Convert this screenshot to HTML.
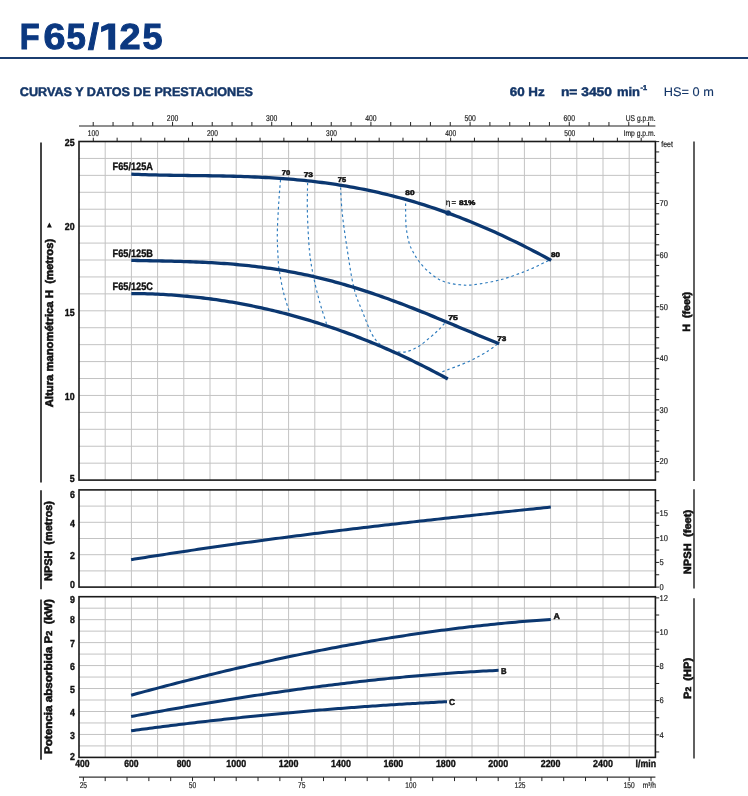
<!DOCTYPE html>
<html><head><meta charset="utf-8"><title>F65/125</title>
<style>
html,body{margin:0;padding:0;background:#fff;width:748px;height:796px;overflow:hidden;}
svg{position:absolute;left:0;top:0;display:block;will-change:transform;}
</style></head><body>
<svg width="748" height="796" viewBox="0 0 748 796"><style>text{font-family:"Liberation Sans",sans-serif;text-rendering:geometricPrecision;}
.ti{font-size:36.3px;font-weight:bold;fill:#0b3880;stroke:#0b3880;stroke-width:1px;}
.hd{font-weight:bold;fill:#143668;stroke:#143668;stroke-width:0.45px;}
.sm{font-size:8.4px;fill:#222;stroke:#222;stroke-width:0.2px;}
.sm2{font-size:8px;fill:#222;stroke:#222;stroke-width:0.35px;}
.ax{font-size:10.2px;font-weight:bold;fill:#111;stroke:#111;stroke-width:0.4px;}
.lb{font-size:10.8px;font-weight:bold;fill:#111;stroke:#111;stroke-width:0.35px;}
.lb2{font-size:8.5px;font-weight:bold;fill:#111;stroke:#111;stroke-width:0.45px;}
.ef{font-size:6.8px;font-weight:bold;fill:#111;stroke:#111;stroke-width:0.5px;}
.rt{font-size:11px;font-weight:bold;fill:#111;stroke:#111;stroke-width:0.6px;}
.rt2{font-size:10.5px;font-weight:bold;fill:#111;stroke:#111;stroke-width:0.6px;}
.cv{fill:none;stroke:#0b3770;stroke-linejoin:round;}
.ds{fill:none;stroke:#2d7bbd;stroke-width:1.15;stroke-dasharray:2.6,2.8;}
</style>
<text transform="translate(19.87,49.3) scale(0.896,1)" class="ti">F</text>
<text transform="translate(43.40,49.3) scale(1.089,1)" class="ti">6</text>
<text transform="translate(66.41,49.3) scale(0.960,1)" class="ti">5</text>
<text transform="translate(87.96,49.3) scale(1.079,1)" class="ti">/</text>
<text transform="translate(119.51,49.3) scale(1.045,1)" class="ti">2</text>
<text transform="translate(142.49,49.3) scale(0.992,1)" class="ti">5</text>
<path d="M108.3,23.6H115.2V49.7H108.3V29.2L101.1,32.3V26.8Z" fill="#0b3880"/>
<rect x="0" y="57" width="748" height="2" fill="#1b3d70"/>
<text x="19.8" y="95.6" class="hd" font-size="12.4" textLength="233.2" lengthAdjust="spacingAndGlyphs">CURVAS Y DATOS DE PRESTACIONES</text>
<text x="509.7" y="95.6" class="hd" font-size="12.4" textLength="35" lengthAdjust="spacingAndGlyphs">60 Hz</text>
<text x="560.9" y="95.6" class="hd" font-size="12.4" textLength="51.1" lengthAdjust="spacingAndGlyphs">n= 3450</text>
<text x="616.9" y="95.6" class="hd" font-size="12.4" textLength="23.1" lengthAdjust="spacingAndGlyphs">min</text>
<text x="640.5" y="89.5" class="hd" font-size="7" textLength="6.5" lengthAdjust="spacingAndGlyphs">-1</text>
<text x="663.8" y="95.6" class="hd" font-size="12.4" style="font-weight:normal;stroke-width:0.1px" textLength="50" lengthAdjust="spacingAndGlyphs">HS= 0 m</text>
<path d="M105.20,141.50V480.10M131.40,141.50V480.10M157.60,141.50V480.10M183.80,141.50V480.10M210.00,141.50V480.10M236.20,141.50V480.10M262.40,141.50V480.10M288.60,141.50V480.10M314.80,141.50V480.10M341.00,141.50V480.10M367.20,141.50V480.10M393.40,141.50V480.10M419.60,141.50V480.10M445.80,141.50V480.10M472.00,141.50V480.10M498.20,141.50V480.10M524.40,141.50V480.10M550.60,141.50V480.10M576.80,141.50V480.10M603.00,141.50V480.10M629.20,141.50V480.10M79.00,463.17H655.40M79.00,446.24H655.40M79.00,429.31H655.40M79.00,412.38H655.40M79.00,395.45H655.40M79.00,378.52H655.40M79.00,361.59H655.40M79.00,344.66H655.40M79.00,327.73H655.40M79.00,310.80H655.40M79.00,293.87H655.40M79.00,276.94H655.40M79.00,260.01H655.40M79.00,243.08H655.40M79.00,226.15H655.40M79.00,209.22H655.40M79.00,192.29H655.40M79.00,175.36H655.40M79.00,158.43H655.40" stroke="#c3c3c3" stroke-width="1" fill="none"/>
<path d="M105.20,489.90V587.10M131.40,489.90V587.10M157.60,489.90V587.10M183.80,489.90V587.10M210.00,489.90V587.10M236.20,489.90V587.10M262.40,489.90V587.10M288.60,489.90V587.10M314.80,489.90V587.10M341.00,489.90V587.10M367.20,489.90V587.10M393.40,489.90V587.10M419.60,489.90V587.10M445.80,489.90V587.10M472.00,489.90V587.10M498.20,489.90V587.10M524.40,489.90V587.10M550.60,489.90V587.10M576.80,489.90V587.10M603.00,489.90V587.10M629.20,489.90V587.10M79.00,570.90H655.40M79.00,554.70H655.40M79.00,538.50H655.40M79.00,522.30H655.40M79.00,506.10H655.40" stroke="#c3c3c3" stroke-width="1" fill="none"/>
<path d="M105.20,596.70V757.40M131.40,596.70V757.40M157.60,596.70V757.40M183.80,596.70V757.40M210.00,596.70V757.40M236.20,596.70V757.40M262.40,596.70V757.40M288.60,596.70V757.40M314.80,596.70V757.40M341.00,596.70V757.40M367.20,596.70V757.40M393.40,596.70V757.40M419.60,596.70V757.40M445.80,596.70V757.40M472.00,596.70V757.40M498.20,596.70V757.40M524.40,596.70V757.40M550.60,596.70V757.40M576.80,596.70V757.40M603.00,596.70V757.40M629.20,596.70V757.40M79.00,745.92H655.40M79.00,734.44H655.40M79.00,722.96H655.40M79.00,711.49H655.40M79.00,700.01H655.40M79.00,688.53H655.40M79.00,677.05H655.40M79.00,665.57H655.40M79.00,654.09H655.40M79.00,642.61H655.40M79.00,631.14H655.40M79.00,619.66H655.40M79.00,608.18H655.40" stroke="#c3c3c3" stroke-width="1" fill="none"/>
<path d="M41,142.4V482.5" stroke="#454545" stroke-width="2"/>
<path d="M41,490.2V589.3" stroke="#454545" stroke-width="2"/>
<path d="M41,599.5V759.7" stroke="#454545" stroke-width="2"/>
<path d="M694,141.5V481.0" stroke="#454545" stroke-width="1.7"/>
<path d="M694,489.2V588.4" stroke="#454545" stroke-width="1.7"/>
<path d="M694,598.3V758.4" stroke="#454545" stroke-width="1.7"/>
<path d="M79.00,125.90H655.40" stroke="#6a6a6a" stroke-width="1.5"/>
<text x="172.56" y="120.80" class="sm" text-anchor="middle" textLength="11.4" lengthAdjust="spacingAndGlyphs">200</text>
<text x="271.73" y="120.80" class="sm" text-anchor="middle" textLength="11.4" lengthAdjust="spacingAndGlyphs">300</text>
<text x="370.91" y="120.80" class="sm" text-anchor="middle" textLength="11.4" lengthAdjust="spacingAndGlyphs">400</text>
<text x="470.09" y="120.80" class="sm" text-anchor="middle" textLength="11.4" lengthAdjust="spacingAndGlyphs">500</text>
<text x="569.27" y="120.80" class="sm" text-anchor="middle" textLength="11.4" lengthAdjust="spacingAndGlyphs">600</text>
<text x="93.31" y="136.40" class="sm" text-anchor="middle" textLength="11.0" lengthAdjust="spacingAndGlyphs">100</text>
<text x="212.42" y="136.40" class="sm" text-anchor="middle" textLength="11.0" lengthAdjust="spacingAndGlyphs">200</text>
<text x="331.52" y="136.40" class="sm" text-anchor="middle" textLength="11.0" lengthAdjust="spacingAndGlyphs">300</text>
<text x="450.63" y="136.40" class="sm" text-anchor="middle" textLength="11.0" lengthAdjust="spacingAndGlyphs">400</text>
<text x="569.74" y="136.40" class="sm" text-anchor="middle" textLength="11.0" lengthAdjust="spacingAndGlyphs">500</text>
<path d="M93.21,122V125.90M113.05,122V125.90M132.88,122V125.90M152.72,122V125.90M172.56,122V125.90M192.39,122V125.90M212.23,122V125.90M232.06,122V125.90M251.90,122V125.90M271.73,122V125.90M291.57,122V125.90M311.40,122V125.90M331.24,122V125.90M351.08,122V125.90M370.91,122V125.90M390.75,122V125.90M410.58,122V125.90M430.42,122V125.90M450.25,122V125.90M470.09,122V125.90M489.92,122V125.90M509.76,122V125.90M529.60,122V125.90M549.43,122V125.90M569.27,122V125.90M589.10,122V125.90M608.94,122V125.90M628.77,122V125.90M648.61,122V125.90M93.31,137.7V141.50M117.13,137.7V141.50M140.95,137.7V141.50M164.77,137.7V141.50M188.59,137.7V141.50M212.42,137.7V141.50M236.24,137.7V141.50M260.06,137.7V141.50M283.88,137.7V141.50M307.70,137.7V141.50M331.52,137.7V141.50M355.34,137.7V141.50M379.17,137.7V141.50M402.99,137.7V141.50M426.81,137.7V141.50M450.63,137.7V141.50M474.45,137.7V141.50M498.27,137.7V141.50M522.09,137.7V141.50M545.92,137.7V141.50M569.74,137.7V141.50M593.56,137.7V141.50M617.38,137.7V141.50M641.20,137.7V141.50" stroke="#222" stroke-width="1"/>
<text x="655.50" y="120.80" class="sm" text-anchor="end" textLength="29.7" lengthAdjust="spacingAndGlyphs">US g.p.m.</text>
<text x="655.50" y="136.40" class="sm" text-anchor="end" textLength="31.9" lengthAdjust="spacingAndGlyphs">Imp g.p.m.</text>
<path d="M79.00,777.10H655.40" stroke="#333" stroke-width="1.4"/>
<text x="83.37" y="788.30" class="sm" text-anchor="middle" textLength="7.4" lengthAdjust="spacingAndGlyphs">25</text>
<text x="192.53" y="788.30" class="sm" text-anchor="middle" textLength="7.4" lengthAdjust="spacingAndGlyphs">50</text>
<text x="301.70" y="788.30" class="sm" text-anchor="middle" textLength="7.4" lengthAdjust="spacingAndGlyphs">75</text>
<text x="410.87" y="788.30" class="sm" text-anchor="middle" textLength="11.0" lengthAdjust="spacingAndGlyphs">100</text>
<text x="520.03" y="788.30" class="sm" text-anchor="middle" textLength="11.0" lengthAdjust="spacingAndGlyphs">125</text>
<text x="629.20" y="788.30" class="sm" text-anchor="middle" textLength="11.0" lengthAdjust="spacingAndGlyphs">150</text>
<path d="M83.37,777.10V781.10M105.20,777.10V781.10M127.03,777.10V781.10M148.87,777.10V781.10M170.70,777.10V781.10M192.53,777.10V781.10M214.37,777.10V781.10M236.20,777.10V781.10M258.03,777.10V781.10M279.87,777.10V781.10M301.70,777.10V781.10M323.53,777.10V781.10M345.37,777.10V781.10M367.20,777.10V781.10M389.03,777.10V781.10M410.87,777.10V781.10M432.70,777.10V781.10M454.53,777.10V781.10M476.37,777.10V781.10M498.20,777.10V781.10M520.03,777.10V781.10M541.87,777.10V781.10M563.70,777.10V781.10M585.53,777.10V781.10M607.37,777.10V781.10M629.20,777.10V781.10M651.03,777.10V781.10" stroke="#222" stroke-width="1"/>
<text x="656.00" y="788.30" class="sm" text-anchor="end" textLength="13.2" lengthAdjust="spacingAndGlyphs">m³/h</text>
<text x="82.30" y="767.20" class="ax" text-anchor="middle" textLength="14.3" lengthAdjust="spacingAndGlyphs">400</text>
<text x="131.40" y="767.20" class="ax" text-anchor="middle" textLength="14.3" lengthAdjust="spacingAndGlyphs">600</text>
<text x="183.80" y="767.20" class="ax" text-anchor="middle" textLength="14.3" lengthAdjust="spacingAndGlyphs">800</text>
<text x="236.20" y="767.20" class="ax" text-anchor="middle" textLength="19.8" lengthAdjust="spacingAndGlyphs">1000</text>
<text x="288.60" y="767.20" class="ax" text-anchor="middle" textLength="19.8" lengthAdjust="spacingAndGlyphs">1200</text>
<text x="341.00" y="767.20" class="ax" text-anchor="middle" textLength="19.8" lengthAdjust="spacingAndGlyphs">1400</text>
<text x="393.40" y="767.20" class="ax" text-anchor="middle" textLength="19.8" lengthAdjust="spacingAndGlyphs">1600</text>
<text x="445.80" y="767.20" class="ax" text-anchor="middle" textLength="19.8" lengthAdjust="spacingAndGlyphs">1800</text>
<text x="498.20" y="767.20" class="ax" text-anchor="middle" textLength="19.8" lengthAdjust="spacingAndGlyphs">2000</text>
<text x="550.60" y="767.20" class="ax" text-anchor="middle" textLength="19.8" lengthAdjust="spacingAndGlyphs">2200</text>
<text x="603.00" y="767.20" class="ax" text-anchor="middle" textLength="19.8" lengthAdjust="spacingAndGlyphs">2400</text>
<text x="656.00" y="767.20" class="ax" text-anchor="end" textLength="20.4" lengthAdjust="spacingAndGlyphs">l/min</text>
<text x="74.60" y="146.00" class="ax" text-anchor="end" textLength="9.8" lengthAdjust="spacingAndGlyphs">25</text>
<text x="74.60" y="230.30" class="ax" text-anchor="end" textLength="9.8" lengthAdjust="spacingAndGlyphs">20</text>
<text x="74.60" y="316.00" class="ax" text-anchor="end" textLength="9.8" lengthAdjust="spacingAndGlyphs">15</text>
<text x="74.60" y="400.20" class="ax" text-anchor="end" textLength="9.8" lengthAdjust="spacingAndGlyphs">10</text>
<text x="74.60" y="482.10" class="ax" text-anchor="end" textLength="4.9" lengthAdjust="spacingAndGlyphs">5</text>
<text x="74.80" y="498.00" class="ax" text-anchor="end" textLength="4.9" lengthAdjust="spacingAndGlyphs">6</text>
<text x="74.80" y="527.00" class="ax" text-anchor="end" textLength="4.9" lengthAdjust="spacingAndGlyphs">4</text>
<text x="74.80" y="559.40" class="ax" text-anchor="end" textLength="4.9" lengthAdjust="spacingAndGlyphs">2</text>
<text x="74.80" y="587.80" class="ax" text-anchor="end" textLength="4.9" lengthAdjust="spacingAndGlyphs">0</text>
<text x="74.80" y="603.00" class="ax" text-anchor="end" textLength="4.9" lengthAdjust="spacingAndGlyphs">9</text>
<text x="74.80" y="623.40" class="ax" text-anchor="end" textLength="4.9" lengthAdjust="spacingAndGlyphs">8</text>
<text x="74.80" y="647.20" class="ax" text-anchor="end" textLength="4.9" lengthAdjust="spacingAndGlyphs">7</text>
<text x="74.80" y="669.80" class="ax" text-anchor="end" textLength="4.9" lengthAdjust="spacingAndGlyphs">6</text>
<text x="74.80" y="692.90" class="ax" text-anchor="end" textLength="4.9" lengthAdjust="spacingAndGlyphs">5</text>
<text x="74.80" y="716.20" class="ax" text-anchor="end" textLength="4.9" lengthAdjust="spacingAndGlyphs">4</text>
<text x="74.80" y="738.80" class="ax" text-anchor="end" textLength="4.9" lengthAdjust="spacingAndGlyphs">3</text>
<text x="74.80" y="760.30" class="ax" text-anchor="end" textLength="4.9" lengthAdjust="spacingAndGlyphs">2</text>
<text x="659.60" y="464.34" class="sm" textLength="8.4" lengthAdjust="spacingAndGlyphs">20</text>
<text x="659.60" y="412.74" class="sm" textLength="8.4" lengthAdjust="spacingAndGlyphs">30</text>
<text x="659.60" y="361.14" class="sm" textLength="8.4" lengthAdjust="spacingAndGlyphs">40</text>
<text x="659.60" y="309.54" class="sm" textLength="8.4" lengthAdjust="spacingAndGlyphs">50</text>
<text x="659.60" y="257.93" class="sm" textLength="8.4" lengthAdjust="spacingAndGlyphs">60</text>
<text x="659.60" y="206.33" class="sm" textLength="8.4" lengthAdjust="spacingAndGlyphs">70</text>
<text x="661.30" y="147.00" class="sm" textLength="11.6" lengthAdjust="spacingAndGlyphs">feet</text>
<text x="659.60" y="589.90" class="sm" textLength="4.2" lengthAdjust="spacingAndGlyphs">0</text>
<text x="659.60" y="565.21" class="sm" textLength="4.2" lengthAdjust="spacingAndGlyphs">5</text>
<text x="659.60" y="540.52" class="sm" textLength="8.4" lengthAdjust="spacingAndGlyphs">10</text>
<text x="659.60" y="515.83" class="sm" textLength="8.4" lengthAdjust="spacingAndGlyphs">15</text>
<text x="659.60" y="737.64" class="sm" textLength="4.2" lengthAdjust="spacingAndGlyphs">4</text>
<text x="659.60" y="703.40" class="sm" textLength="4.2" lengthAdjust="spacingAndGlyphs">6</text>
<text x="659.60" y="669.16" class="sm" textLength="4.2" lengthAdjust="spacingAndGlyphs">8</text>
<text x="659.60" y="634.92" class="sm" textLength="8.4" lengthAdjust="spacingAndGlyphs">10</text>
<text x="659.60" y="600.68" class="sm" textLength="8.4" lengthAdjust="spacingAndGlyphs">12</text>
<path d="M655.40,471.87H659.20M655.40,461.54H659.20M655.40,451.22H659.20M655.40,440.90H659.20M655.40,430.58H659.20M655.40,420.26H659.20M655.40,409.94H659.20M655.40,399.62H659.20M655.40,389.30H659.20M655.40,378.98H659.20M655.40,368.66H659.20M655.40,358.34H659.20M655.40,348.02H659.20M655.40,337.70H659.20M655.40,327.38H659.20M655.40,317.06H659.20M655.40,306.74H659.20M655.40,296.42H659.20M655.40,286.10H659.20M655.40,275.78H659.20M655.40,265.45H659.20M655.40,255.13H659.20M655.40,244.81H659.20M655.40,234.49H659.20M655.40,224.17H659.20M655.40,213.85H659.20M655.40,203.53H659.20M655.40,193.21H659.20M655.40,182.89H659.20M655.40,172.57H659.20M655.40,162.25H659.20M655.40,151.93H659.20M655.40,141.61H659.20M655.40,587.10H659.20M655.40,574.76H659.20M655.40,562.41H659.20M655.40,550.07H659.20M655.40,537.72H659.20M655.40,525.38H659.20M655.40,513.03H659.20M655.40,500.69H659.20M655.40,751.96H659.20M655.40,734.84H659.20M655.40,717.72H659.20M655.40,700.60H659.20M655.40,683.48H659.20M655.40,666.36H659.20M655.40,649.24H659.20M655.40,632.12H659.20M655.40,615.00H659.20M655.40,597.88H659.20" stroke="#222" stroke-width="1"/>
<text transform="translate(53.10,323.00) rotate(-90)" class="rt" text-anchor="middle" textLength="168.6" lengthAdjust="spacingAndGlyphs">Altura manométrica H&#160; (metros)</text>
<path d="M46.9,227.6 L51.9,227.6 L49.4,222.6 Z" fill="#111"/>
<text transform="translate(52.20,541.00) rotate(-90)" class="rt" text-anchor="middle" textLength="80.0" lengthAdjust="spacingAndGlyphs">NPSH&#160; (metros)</text>
<text transform="translate(52.20,676.50) rotate(-90)" class="rt" text-anchor="middle" textLength="155.0" lengthAdjust="spacingAndGlyphs">Potencia absorbida P<tspan font-size="8.5">2</tspan>&#160; (kW)</text>
<text transform="translate(690.20,311.80) rotate(-90)" class="rt2" text-anchor="middle" textLength="40.0" lengthAdjust="spacingAndGlyphs">H&#160; (feet)</text>
<text transform="translate(690.50,542.00) rotate(-90)" class="rt2" text-anchor="middle" textLength="64.4" lengthAdjust="spacingAndGlyphs">NPSH&#160; (feet)</text>
<text transform="translate(690.50,678.40) rotate(-90)" class="rt2" text-anchor="middle" textLength="41.0" lengthAdjust="spacingAndGlyphs">P<tspan font-size="8">2</tspan>&#160; (HP)</text>
<path d="M280.50,180.00 C280.22,183.67 279.33,193.00 278.80,202.00 C278.27,211.00 277.40,224.38 277.30,234.00 C277.20,243.62 277.87,253.63 278.20,259.70 C278.53,265.77 278.45,265.07 279.30,270.40 C280.15,275.73 281.60,284.68 283.30,291.70 C285.00,298.72 288.47,309.03 289.50,312.50" class="ds"/>
<path d="M307.60,183.00 C307.57,187.95 307.08,201.35 307.40,212.70 C307.72,224.05 308.47,240.38 309.50,251.10 C310.53,261.82 311.88,268.45 313.60,277.00 C315.32,285.55 317.65,294.62 319.80,302.40 C321.95,310.18 325.38,320.15 326.50,323.70" class="ds"/>
<path d="M340.50,187.50 C340.78,191.70 341.20,203.17 342.20,212.70 C343.20,222.23 344.57,232.23 346.50,244.70 C348.43,257.17 351.05,276.12 353.80,287.50 C356.55,298.88 359.93,305.15 363.00,313.00 C366.07,320.85 369.20,329.27 372.20,334.60 C375.20,339.93 377.70,342.35 381.00,345.00 C384.30,347.65 388.50,349.30 392.00,350.50 C395.50,351.70 399.00,352.18 402.00,352.20 C405.00,352.22 407.13,351.63 410.00,350.60 C412.87,349.57 415.87,348.18 419.20,346.00 C422.53,343.82 426.78,340.17 430.00,337.50 C433.22,334.83 436.05,332.38 438.50,330.00 C440.95,327.62 443.67,324.33 444.70,323.20" class="ds"/>
<path d="M405.60,203.50 C405.62,205.55 405.58,211.68 405.70,215.80 C405.82,219.92 405.73,223.68 406.30,228.20 C406.87,232.72 407.97,238.93 409.10,242.90 C410.23,246.87 411.50,248.98 413.10,252.00 C414.70,255.02 416.45,258.00 418.70,261.00 C420.95,264.00 423.58,267.17 426.60,270.00 C429.62,272.83 433.40,275.90 436.80,278.00 C440.20,280.10 443.13,281.47 447.00,282.60 C450.87,283.73 455.67,284.43 460.00,284.80 C464.33,285.17 466.27,285.63 473.00,284.80 C479.73,283.97 491.17,282.27 500.40,279.80 C509.63,277.33 520.08,273.37 528.40,270.00 C536.72,266.63 546.65,261.33 550.30,259.60" class="ds"/>
<path d="M442.30,371.80 C446.90,370.00 462.08,364.60 469.90,361.00 C477.72,357.40 484.47,353.13 489.20,350.20 C493.93,347.27 496.78,344.53 498.30,343.40" class="ds"/>
<path d="M131.30,174.13 L134.83,174.29 L138.36,174.43 L141.89,174.56 L145.41,174.67 L148.94,174.78 L152.47,174.87 L156.00,174.96 L159.53,175.04 L163.06,175.11 L166.59,175.18 L170.11,175.24 L173.64,175.30 L177.17,175.35 L180.70,175.40 L184.23,175.45 L187.76,175.49 L191.29,175.53 L194.81,175.58 L198.34,175.62 L201.87,175.67 L205.40,175.72 L208.93,175.77 L212.46,175.83 L215.99,175.89 L219.51,175.95 L223.04,176.02 L226.57,176.10 L230.10,176.18 L233.63,176.27 L237.16,176.37 L240.69,176.47 L244.21,176.59 L247.74,176.71 L251.27,176.85 L254.80,177.00 L258.33,177.15 L261.86,177.32 L265.39,177.51 L268.91,177.70 L272.44,177.91 L275.97,178.13 L279.50,178.37 L283.03,178.62 L286.56,178.89 L290.09,179.17 L293.61,179.47 L297.14,179.79 L300.67,180.12 L304.20,180.47 L307.73,180.84 L311.26,181.23 L314.79,181.64 L318.31,182.06 L321.84,182.50 L325.37,182.97 L328.90,183.45 L332.43,183.96 L335.96,184.48 L339.49,185.03 L343.01,185.59 L346.54,186.18 L350.07,186.79 L353.60,187.42 L357.13,188.07 L360.66,188.75 L364.19,189.45 L367.71,190.17 L371.24,190.91 L374.77,191.68 L378.30,192.47 L381.83,193.29 L385.36,194.13 L388.89,194.99 L392.41,195.87 L395.94,196.78 L399.47,197.72 L403.00,198.67 L406.53,199.66 L410.06,200.66 L413.59,201.69 L417.11,202.75 L420.64,203.83 L424.17,204.93 L427.70,206.06 L431.23,207.22 L434.76,208.40 L438.29,209.60 L441.81,210.82 L445.34,212.08 L448.87,213.35 L452.40,214.65 L455.93,215.98 L459.46,217.33 L462.99,218.70 L466.51,220.10 L470.04,221.52 L473.57,222.96 L477.10,224.43 L480.63,225.92 L484.16,227.44 L487.69,228.97 L491.21,230.53 L494.74,232.12 L498.27,233.72 L501.80,235.35 L505.33,237.00 L508.86,238.68 L512.39,240.37 L515.91,242.08 L519.44,243.82 L522.97,245.58 L526.50,247.36 L530.03,249.15 L533.56,250.97 L537.09,252.81 L540.61,254.66 L544.14,256.54 L547.67,258.43 L551.20,260.34" class="cv" stroke-width="3.3"/>
<path d="M131.30,260.31 L134.39,260.40 L137.48,260.48 L140.57,260.55 L143.67,260.63 L146.76,260.69 L149.85,260.76 L152.94,260.82 L156.03,260.89 L159.12,260.95 L162.22,261.02 L165.31,261.08 L168.40,261.15 L171.49,261.22 L174.58,261.30 L177.67,261.38 L180.77,261.46 L183.86,261.55 L186.95,261.65 L190.04,261.75 L193.13,261.86 L196.22,261.98 L199.32,262.11 L202.41,262.24 L205.50,262.39 L208.59,262.55 L211.68,262.71 L214.77,262.89 L217.86,263.08 L220.96,263.28 L224.05,263.50 L227.14,263.72 L230.23,263.96 L233.32,264.22 L236.41,264.49 L239.51,264.77 L242.60,265.07 L245.69,265.38 L248.78,265.71 L251.87,266.06 L254.96,266.42 L258.06,266.80 L261.15,267.19 L264.24,267.60 L267.33,268.03 L270.42,268.47 L273.51,268.94 L276.61,269.42 L279.70,269.92 L282.79,270.43 L285.88,270.97 L288.97,271.52 L292.06,272.09 L295.15,272.68 L298.25,273.29 L301.34,273.92 L304.43,274.57 L307.52,275.23 L310.61,275.92 L313.70,276.62 L316.80,277.34 L319.89,278.08 L322.98,278.84 L326.07,279.61 L329.16,280.41 L332.25,281.22 L335.35,282.06 L338.44,282.91 L341.53,283.78 L344.62,284.66 L347.71,285.57 L350.80,286.49 L353.89,287.43 L356.99,288.38 L360.08,289.35 L363.17,290.34 L366.26,291.35 L369.35,292.37 L372.44,293.41 L375.54,294.46 L378.63,295.53 L381.72,296.61 L384.81,297.71 L387.90,298.82 L390.99,299.94 L394.09,301.08 L397.18,302.23 L400.27,303.40 L403.36,304.57 L406.45,305.76 L409.54,306.96 L412.64,308.16 L415.73,309.38 L418.82,310.61 L421.91,311.85 L425.00,313.09 L428.09,314.34 L431.18,315.61 L434.28,316.87 L437.37,318.15 L440.46,319.42 L443.55,320.71 L446.64,321.99 L449.73,323.28 L452.83,324.58 L455.92,325.87 L459.01,327.17 L462.10,328.47 L465.19,329.76 L468.28,331.06 L471.38,332.35 L474.47,333.64 L477.56,334.93 L480.65,336.22 L483.74,337.49 L486.83,338.77 L489.93,340.03 L493.02,341.29 L496.11,342.54 L499.20,343.78" class="cv" stroke-width="3.3"/>
<path d="M131.30,293.54 L133.96,293.55 L136.62,293.58 L139.28,293.61 L141.94,293.66 L144.60,293.72 L147.26,293.79 L149.92,293.88 L152.58,293.97 L155.24,294.08 L157.90,294.20 L160.56,294.33 L163.22,294.47 L165.88,294.62 L168.54,294.79 L171.19,294.96 L173.85,295.15 L176.51,295.35 L179.17,295.56 L181.83,295.78 L184.49,296.02 L187.15,296.26 L189.81,296.52 L192.47,296.79 L195.13,297.07 L197.79,297.36 L200.45,297.67 L203.11,297.99 L205.77,298.31 L208.43,298.65 L211.09,299.00 L213.75,299.37 L216.41,299.74 L219.07,300.13 L221.73,300.53 L224.39,300.94 L227.05,301.36 L229.71,301.80 L232.37,302.24 L235.03,302.70 L237.69,303.17 L240.35,303.66 L243.01,304.15 L245.67,304.66 L248.33,305.17 L250.98,305.70 L253.64,306.25 L256.30,306.80 L258.96,307.37 L261.62,307.94 L264.28,308.53 L266.94,309.14 L269.60,309.75 L272.26,310.38 L274.92,311.01 L277.58,311.67 L280.24,312.33 L282.90,313.00 L285.56,313.69 L288.22,314.39 L290.88,315.10 L293.54,315.82 L296.20,316.56 L298.86,317.30 L301.52,318.06 L304.18,318.84 L306.84,319.62 L309.50,320.42 L312.16,321.22 L314.82,322.05 L317.48,322.88 L320.14,323.72 L322.80,324.58 L325.46,325.45 L328.12,326.33 L330.77,327.23 L333.43,328.13 L336.09,329.05 L338.75,329.98 L341.41,330.93 L344.07,331.88 L346.73,332.85 L349.39,333.83 L352.05,334.83 L354.71,335.83 L357.37,336.85 L360.03,337.88 L362.69,338.92 L365.35,339.98 L368.01,341.05 L370.67,342.13 L373.33,343.22 L375.99,344.33 L378.65,345.45 L381.31,346.58 L383.97,347.72 L386.63,348.87 L389.29,350.04 L391.95,351.22 L394.61,352.42 L397.27,353.62 L399.93,354.84 L402.59,356.07 L405.25,357.32 L407.91,358.57 L410.56,359.84 L413.22,361.12 L415.88,362.42 L418.54,363.73 L421.20,365.05 L423.86,366.38 L426.52,367.72 L429.18,369.08 L431.84,370.45 L434.50,371.84 L437.16,373.23 L439.82,374.64 L442.48,376.06 L445.14,377.50 L447.80,378.95" class="cv" stroke-width="3.3"/>
<path d="M131.10,559.66 L134.63,559.09 L138.15,558.53 L141.68,557.96 L145.21,557.40 L148.73,556.85 L152.26,556.29 L155.79,555.74 L159.32,555.19 L162.84,554.65 L166.37,554.11 L169.90,553.57 L173.42,553.03 L176.95,552.50 L180.48,551.97 L184.00,551.44 L187.53,550.91 L191.06,550.39 L194.58,549.87 L198.11,549.35 L201.64,548.84 L205.16,548.32 L208.69,547.81 L212.22,547.31 L215.75,546.80 L219.27,546.30 L222.80,545.80 L226.33,545.30 L229.85,544.81 L233.38,544.32 L236.91,543.83 L240.43,543.34 L243.96,542.85 L247.49,542.37 L251.01,541.89 L254.54,541.41 L258.07,540.93 L261.59,540.46 L265.12,539.99 L268.65,539.52 L272.18,539.05 L275.70,538.59 L279.23,538.12 L282.76,537.66 L286.28,537.20 L289.81,536.75 L293.34,536.29 L296.86,535.84 L300.39,535.39 L303.92,534.94 L307.44,534.49 L310.97,534.05 L314.50,533.61 L318.03,533.17 L321.55,532.73 L325.08,532.29 L328.61,531.85 L332.13,531.42 L335.66,530.99 L339.19,530.56 L342.71,530.13 L346.24,529.70 L349.77,529.28 L353.29,528.85 L356.82,528.43 L360.35,528.01 L363.87,527.59 L367.40,527.17 L370.93,526.76 L374.46,526.34 L377.98,525.93 L381.51,525.52 L385.04,525.11 L388.56,524.70 L392.09,524.29 L395.62,523.89 L399.14,523.48 L402.67,523.08 L406.20,522.68 L409.72,522.28 L413.25,521.88 L416.78,521.48 L420.31,521.08 L423.83,520.69 L427.36,520.29 L430.89,519.90 L434.41,519.51 L437.94,519.12 L441.47,518.73 L444.99,518.34 L448.52,517.95 L452.05,517.56 L455.57,517.18 L459.10,516.79 L462.63,516.41 L466.15,516.02 L469.68,515.64 L473.21,515.26 L476.74,514.88 L480.26,514.50 L483.79,514.12 L487.32,513.74 L490.84,513.37 L494.37,512.99 L497.90,512.61 L501.42,512.24 L504.95,511.86 L508.48,511.49 L512.00,511.12 L515.53,510.74 L519.06,510.37 L522.58,510.00 L526.11,509.63 L529.64,509.26 L533.17,508.89 L536.69,508.52 L540.22,508.15 L543.75,507.78 L547.27,507.41 L550.80,507.04" class="cv" stroke-width="3.0"/>
<path d="M131.10,695.24 L134.63,694.28 L138.15,693.32 L141.68,692.36 L145.21,691.41 L148.73,690.47 L152.26,689.52 L155.79,688.59 L159.32,687.65 L162.84,686.73 L166.37,685.80 L169.90,684.88 L173.42,683.97 L176.95,683.06 L180.48,682.15 L184.00,681.25 L187.53,680.36 L191.06,679.47 L194.58,678.58 L198.11,677.70 L201.64,676.82 L205.16,675.95 L208.69,675.08 L212.22,674.22 L215.75,673.36 L219.27,672.51 L222.80,671.66 L226.33,670.82 L229.85,669.99 L233.38,669.15 L236.91,668.33 L240.43,667.51 L243.96,666.69 L247.49,665.88 L251.01,665.07 L254.54,664.27 L258.07,663.48 L261.59,662.69 L265.12,661.90 L268.65,661.13 L272.18,660.35 L275.70,659.59 L279.23,658.82 L282.76,658.07 L286.28,657.32 L289.81,656.57 L293.34,655.83 L296.86,655.10 L300.39,654.37 L303.92,653.65 L307.44,652.93 L310.97,652.22 L314.50,651.52 L318.03,650.82 L321.55,650.13 L325.08,649.44 L328.61,648.76 L332.13,648.08 L335.66,647.42 L339.19,646.75 L342.71,646.10 L346.24,645.45 L349.77,644.80 L353.29,644.17 L356.82,643.53 L360.35,642.91 L363.87,642.29 L367.40,641.68 L370.93,641.07 L374.46,640.47 L377.98,639.88 L381.51,639.30 L385.04,638.72 L388.56,638.14 L392.09,637.58 L395.62,637.02 L399.14,636.46 L402.67,635.92 L406.20,635.38 L409.72,634.84 L413.25,634.32 L416.78,633.80 L420.31,633.29 L423.83,632.78 L427.36,632.28 L430.89,631.79 L434.41,631.30 L437.94,630.83 L441.47,630.36 L444.99,629.89 L448.52,629.44 L452.05,628.99 L455.57,628.55 L459.10,628.11 L462.63,627.68 L466.15,627.26 L469.68,626.85 L473.21,626.45 L476.74,626.05 L480.26,625.66 L483.79,625.27 L487.32,624.90 L490.84,624.53 L494.37,624.17 L497.90,623.82 L501.42,623.47 L504.95,623.13 L508.48,622.80 L512.00,622.48 L515.53,622.17 L519.06,621.86 L522.58,621.56 L526.11,621.27 L529.64,620.99 L533.17,620.71 L536.69,620.45 L540.22,620.19 L543.75,619.94 L547.27,619.69 L550.80,619.46" class="cv" stroke-width="3.0"/>
<path d="M131.10,716.49 L134.19,715.92 L137.28,715.36 L140.36,714.79 L143.45,714.23 L146.54,713.67 L149.63,713.11 L152.72,712.56 L155.81,712.01 L158.89,711.46 L161.98,710.91 L165.07,710.36 L168.16,709.82 L171.25,709.27 L174.34,708.73 L177.42,708.20 L180.51,707.66 L183.60,707.13 L186.69,706.60 L189.78,706.07 L192.86,705.55 L195.95,705.02 L199.04,704.50 L202.13,703.99 L205.22,703.47 L208.31,702.96 L211.39,702.45 L214.48,701.94 L217.57,701.44 L220.66,700.93 L223.75,700.44 L226.84,699.94 L229.92,699.45 L233.01,698.96 L236.10,698.47 L239.19,697.98 L242.28,697.50 L245.36,697.02 L248.45,696.55 L251.54,696.07 L254.63,695.60 L257.72,695.14 L260.81,694.67 L263.89,694.21 L266.98,693.75 L270.07,693.30 L273.16,692.85 L276.25,692.40 L279.34,691.95 L282.42,691.51 L285.51,691.07 L288.60,690.64 L291.69,690.21 L294.78,689.78 L297.86,689.35 L300.95,688.93 L304.04,688.51 L307.13,688.10 L310.22,687.69 L313.31,687.28 L316.39,686.88 L319.48,686.48 L322.57,686.08 L325.66,685.69 L328.75,685.30 L331.84,684.91 L334.92,684.53 L338.01,684.15 L341.10,683.78 L344.19,683.41 L347.28,683.04 L350.36,682.68 L353.45,682.32 L356.54,681.96 L359.63,681.61 L362.72,681.26 L365.81,680.92 L368.89,680.58 L371.98,680.25 L375.07,679.92 L378.16,679.59 L381.25,679.27 L384.34,678.95 L387.42,678.63 L390.51,678.32 L393.60,678.02 L396.69,677.71 L399.78,677.42 L402.86,677.12 L405.95,676.84 L409.04,676.55 L412.13,676.27 L415.22,676.00 L418.31,675.72 L421.39,675.46 L424.48,675.20 L427.57,674.94 L430.66,674.69 L433.75,674.44 L436.84,674.19 L439.92,673.96 L443.01,673.72 L446.10,673.49 L449.19,673.27 L452.28,673.05 L455.36,672.83 L458.45,672.62 L461.54,672.41 L464.63,672.21 L467.72,672.02 L470.81,671.83 L473.89,671.64 L476.98,671.46 L480.07,671.28 L483.16,671.11 L486.25,670.95 L489.34,670.79 L492.42,670.63 L495.51,670.48 L498.60,670.34" class="cv" stroke-width="3.0"/>
<path d="M131.10,730.78 L133.75,730.42 L136.41,730.06 L139.06,729.70 L141.72,729.35 L144.37,729.00 L147.03,728.65 L149.68,728.30 L152.34,727.95 L154.99,727.61 L157.65,727.27 L160.30,726.92 L162.96,726.59 L165.61,726.25 L168.26,725.91 L170.92,725.58 L173.57,725.25 L176.23,724.92 L178.88,724.60 L181.54,724.27 L184.19,723.95 L186.85,723.63 L189.50,723.31 L192.16,722.99 L194.81,722.68 L197.47,722.36 L200.12,722.05 L202.77,721.74 L205.43,721.44 L208.08,721.13 L210.74,720.83 L213.39,720.53 L216.05,720.23 L218.70,719.93 L221.36,719.64 L224.01,719.34 L226.67,719.05 L229.32,718.76 L231.98,718.47 L234.63,718.19 L237.28,717.91 L239.94,717.62 L242.59,717.34 L245.25,717.07 L247.90,716.79 L250.56,716.52 L253.21,716.25 L255.87,715.98 L258.52,715.71 L261.18,715.44 L263.83,715.18 L266.49,714.92 L269.14,714.66 L271.79,714.40 L274.45,714.14 L277.10,713.89 L279.76,713.64 L282.41,713.39 L285.07,713.14 L287.72,712.89 L290.38,712.65 L293.03,712.41 L295.69,712.17 L298.34,711.93 L301.00,711.69 L303.65,711.46 L306.31,711.23 L308.96,711.00 L311.61,710.77 L314.27,710.54 L316.92,710.32 L319.58,710.09 L322.23,709.87 L324.89,709.66 L327.54,709.44 L330.20,709.22 L332.85,709.01 L335.51,708.80 L338.16,708.59 L340.82,708.39 L343.47,708.18 L346.12,707.98 L348.78,707.78 L351.43,707.58 L354.09,707.38 L356.74,707.19 L359.40,706.99 L362.05,706.80 L364.71,706.61 L367.36,706.43 L370.02,706.24 L372.67,706.06 L375.33,705.88 L377.98,705.70 L380.63,705.52 L383.29,705.35 L385.94,705.17 L388.60,705.00 L391.25,704.83 L393.91,704.66 L396.56,704.50 L399.22,704.34 L401.87,704.17 L404.53,704.01 L407.18,703.86 L409.84,703.70 L412.49,703.55 L415.14,703.40 L417.80,703.25 L420.45,703.10 L423.11,702.95 L425.76,702.81 L428.42,702.67 L431.07,702.53 L433.73,702.39 L436.38,702.25 L439.04,702.12 L441.69,701.99 L444.35,701.86 L447.00,701.73" class="cv" stroke-width="3.0"/>
<circle cx="448.1" cy="213" r="2.8" fill="#0b3770"/>
<rect x="79.00" y="141.50" width="576.40" height="338.60" fill="none" stroke="#1a1a1a" stroke-width="1.6"/>
<rect x="79.00" y="489.90" width="576.40" height="97.20" fill="none" stroke="#1a1a1a" stroke-width="1.6"/>
<rect x="79.00" y="596.70" width="576.40" height="160.70" fill="none" stroke="#1a1a1a" stroke-width="1.6"/>
<text x="112.60" y="169.80" class="lb" textLength="40.3" lengthAdjust="spacingAndGlyphs">F65/125A</text>
<text x="112.60" y="256.80" class="lb" textLength="40.3" lengthAdjust="spacingAndGlyphs">F65/125B</text>
<text x="112.60" y="290.00" class="lb" textLength="40.3" lengthAdjust="spacingAndGlyphs">F65/125C</text>
<text x="281.70" y="174.60" class="ef" textLength="8.4" lengthAdjust="spacingAndGlyphs">70</text>
<text x="303.70" y="176.90" class="ef" textLength="9.3" lengthAdjust="spacingAndGlyphs">73</text>
<text x="337.80" y="181.90" class="ef" textLength="8.2" lengthAdjust="spacingAndGlyphs">75</text>
<text x="405.30" y="195.10" class="ef" textLength="9.2" lengthAdjust="spacingAndGlyphs">80</text>
<text x="551.00" y="256.90" class="ef" textLength="9.0" lengthAdjust="spacingAndGlyphs">80</text>
<text x="448.20" y="319.90" class="ef" textLength="9.6" lengthAdjust="spacingAndGlyphs">75</text>
<text x="497.20" y="341.00" class="ef" textLength="9.0" lengthAdjust="spacingAndGlyphs">73</text>
<text x="445.70" y="205.30" class="sm2" textLength="4.6" lengthAdjust="spacingAndGlyphs">η</text>
<text x="451.60" y="205.30" class="sm2" textLength="4.6" lengthAdjust="spacingAndGlyphs">=</text>
<text x="458.90" y="205.30" class="ef" textLength="16.6" lengthAdjust="spacingAndGlyphs">81%</text>
<text x="553.60" y="618.70" class="lb2" textLength="6.4" lengthAdjust="spacingAndGlyphs">A</text>
<text x="501.00" y="674.00" class="lb2" textLength="5.6" lengthAdjust="spacingAndGlyphs">B</text>
<text x="448.90" y="705.00" class="lb2" textLength="6.0" lengthAdjust="spacingAndGlyphs">C</text>
</svg>
</body></html>
